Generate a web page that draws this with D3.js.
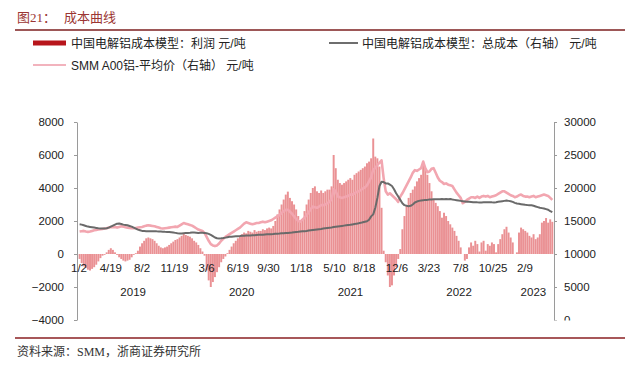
<!DOCTYPE html>
<html><head><meta charset="utf-8">
<script src="https://cdn.jsdelivr.net/npm/d3@7"></script>
<style>body{margin:0;background:#fff}svg{display:block}</style>
</head><body><svg id="c" width="640" height="375"></svg>
<script>
// weekly observations (Fridays) starting 2019-01-04
const startDate = "2019-01-04";
// 中国电解铝成本模型：利润 (元/吨, left axis)
const profit = [
 -300,-550,-750,-850, -950,-1000,-900,-800, -650,-450,-250,-100,-50, 100,250,350,250,
 100,-50,-200,-300,-400, -450,-400,-350,-200, -50,50,200,450, 650,800,950,1000,950,
 900,800,650,500, 400,350,400,450, 550,650,750,850,900, 1000,1100,1250,1150,
 1100,1050,950,800,700, 550,350,150,-100, -1000,-1600,-2000,-1700, -1400,-1100,-800,-500,
 -300,-150,50,250,450, 650,800,950,1050, 1200,1300,1250,1400,1350, 1300,1450,1350,1400,
 1400,1500,1450,1550, 1600,1550,1700,2000,2400, 2700,3000,3300,3600, 3780,3400,3200,3000,
 2700,2300,2000,2100,2600, 3000,3300,3700,4000, 4100,3800,3700,3850, 3700,3800,3900,3900,4100,
 6000,5200,4500,4300, 4200,4300,4400,4500, 4600,4500,4800,4900,5000, 5100,5200,5300,5500,
 5600,5800,7000,5900, 5800,5300,2800,200,-500, -1300,-2000,-1900,-1300, -800,-300,300,1500,2300,
 2900,3400,3700,3900, 4100,4400,4600,4800, 5600,5200,4800,4300, 3800,3300,3100,2900,2600,
 2200,2500,2300,2000, 1800,1600,1400,1100, 800,400,0,-400,-300, 400,700,500,800,
 600,150,700,800,200, 600,500,700,600, 100,600,900,1200, 1500,1650,1300,1000,700,
 0,100,1300,1600, 1500,1400,1300,1100, 1000,1200,900,1000,1200, 1900,2000,2180,1900, 2100,1950
];
// 中国电解铝成本模型：总成本 (元/吨, right axis)
const totalCost = [
 14500,14450,14350,14250, 14150,14100,14050,14000, 13950,13900,13880,13870,13880, 13900,14000,14150,14300,
 14450,14600,14620,14550,14450, 14400,14350,14250,14150, 14000,13850,13700,13600, 13500,13480,13460,13450,13450,
 13460,13450,13430,13420, 13400,13380,13360,13350, 13340,13300,13250,13200,13150, 13120,13110,13150,13180,
 13200,13220,13250,13250,13230, 13200,13220,13230,13200, 13150,13050,12900,12700, 12500,12380,12360,12380,
 12420,12480,12550,12600,12620, 12650,12680,12700,12720, 12750,12780,12800,12800,12820, 12850,12850,12880,12900,
 12900,12920,12950,12980, 13000,13000,13020,13050,13080, 13100,13130,13150,13180, 13200,13230,13260,13300,
 13330,13360,13400,13430,13460, 13500,13550,13600,13640, 13680,13720,13760,13800, 13850,13900,13950,13990,14030,
 14080,14130,14180,14220, 14260,14300,14340,14380, 14420,14480,14540,14600,14650, 14720,14800,14880,14950,
 15200,15700,16000,17000, 18500,20300,20950,20900,20700, 20700,20500,20300,19800, 19200,18700,18200,17700,17400,
 17300,17250,17300,17500, 17800,17950,18050,18100, 18150,18200,18200,18250, 18250,18300,18280,18300,18300,
 18320,18300,18320,18300, 18320,18250,18200,18150, 18100,18050,18000,17950,17900, 17900,17880,17850,17850,
 17830,17820,17820,17830,17830, 17850,17850,17830,17820, 17850,17900,17950,18000, 18050,18100,18050,18000,17900,
 17750,17650,17600,17550, 17500,17450,17420,17400, 17380,17300,17200,17100,17000, 16950,16900,16800,16700, 16500,16350
];
// SMM A00铝-平均价 (元/吨, right axis)
const smmPrice = [
 13400,13450,13500,13400, 13350,13400,13500,13600, 13650,13700,13750,13800,13850, 13900,14000,14100,14050,
 14100,14000,14100,14200,14150, 14050,14000,13950,13900, 13900,13950,14000,14050, 14100,14200,14300,14350,14300,
 14250,14200,14100,14000, 13900,13850,13900,13950, 14000,14050,14100,14150,14100, 14300,14500,14700,14600,
 14500,14400,14300,14100,13900, 13700,13600,13500,13200, 12600,12000,11500,11300, 11200,11300,11600,12000,
 12300,12600,12800,13000,13200, 13400,13600,13800,14000, 14300,14600,14800,14700,14600, 14500,14600,14700,14700,
 14800,14900,14800,14900, 15000,15100,15300,15500,15700, 15900,16200,16500,16700, 16700,16400,16100,15700,
 15300,15000,14900,15200,15500, 15900,16300,16800,17200, 17100,17000,17200,17400, 17400,17500,17700,17900,18300,
 19800,19500,18700,18600, 18500,18600,18700,18800, 19000,19000,19200,19400,19500, 19700,19900,20100,20400,
 21000,21600,22800,23000, 23500,23800,24200,21500,19500, 19000,19200,18900,18600, 18300,17900,18700,19200,19800,
 20400,21000,21600,22300, 22700,22600,22800,23000, 24000,23000,22400,22500, 22900,23000,22300,21600,21100,
 20900,20600,20700,20500, 20400,20300,19800,19300, 18900,18500,17700,17900,18200, 18400,18600,18600,18500,
 18700,18500,18700,18800,18700, 18800,18600,18700,18800, 18900,19100,19300,19500, 19500,19300,19100,18900,18800,
 18600,18700,18900,19000, 18800,18700,18700,18600, 18700,18800,18600,18700,18800, 18900,19000,18900,18800, 18500,18200
];
const xTickDates  = ["2019-01-02","2019-04-19","2019-08-02","2019-11-19","2020-03-06","2020-06-19","2020-09-30",
                     "2021-01-18","2021-05-10","2021-08-18","2021-12-06","2022-03-23","2022-07-08","2022-10-25","2023-02-09"];
const xTickLabels = ["1/2","4/19","8/2","11/19","3/6","6/19","9/30","1/18","5/10","8/18","12/6","3/23","7/8","10/25","2/9"];
const yearLabels  = ["2019","2020","2021","2022","2023"];
const leftTicks   = [8000,6000,4000,2000,0,-2000,-4000];
const rightTicks  = [30000,25000,20000,15000,10000,5000,0];
const title = "图21：";
const titleText = "成本曲线";
const legendLabels = ["中国电解铝成本模型：利润 元/吨","中国电解铝成本模型：总成本（右轴） 元/吨","SMM A00铝-平均价（右轴） 元/吨"];
const sourceText = "资料来源：SMM，浙商证券研究所";

const parse = d3.timeParse("%Y-%m-%d");
const t0 = parse(startDate);
const dates = profit.map((_, i) => d3.timeDay.offset(t0, 7 * i));

const svg = d3.select("#c");
const sans = "'Liberation Sans', Arial, 'Noto Sans CJK SC', sans-serif";
const serif = "'Liberation Serif', 'Noto Sans CJK SC', serif";

const x = d3.scaleTime().domain([parse("2019-01-02"), parse("2023-05-16")]).range([79, 553.5]);
const yL = d3.scaleLinear().domain([-4000, 8000]).range([320, 122]);
const yR = d3.scaleLinear().domain([0, 30000]).range([320, 122]);

// header
svg.append("text").attr("x", 17).attr("y", 22).attr("font-family", serif).attr("font-size", 13)
  .attr("fill", "#9b3532").text(title);
svg.append("text").attr("x", 64).attr("y", 22).attr("font-family", serif).attr("font-size", 13)
  .attr("fill", "#9b3532").text(titleText);
svg.append("line").attr("x1", 15).attr("x2", 625).attr("y1", 30).attr("y2", 30)
  .attr("stroke", "#7c1f1f").attr("stroke-width", 1.6);

// legend
const lg = svg.append("g").attr("font-family", sans).attr("font-size", 12).attr("fill", "#222");
lg.append("rect").attr("x", 33).attr("y", 40.5).attr("width", 33).attr("height", 5).attr("fill", "#b8161c");
lg.append("text").attr("x", 71).attr("y", 47.5).text(legendLabels[0]);
lg.append("line").attr("x1", 329).attr("x2", 358).attr("y1", 43).attr("y2", 43).attr("stroke", "#6e6e6e").attr("stroke-width", 2);
lg.append("text").attr("x", 362).attr("y", 47.5).text(legendLabels[1]);
lg.append("line").attr("x1", 33).attr("x2", 66).attr("y1", 65).attr("y2", 65).attr("stroke", "#f2b3bd").attr("stroke-width", 2);
lg.append("text").attr("x", 71).attr("y", 69.5).text(legendLabels[2]);

// bars
const bw = 1.95;
svg.append("g").selectAll("rect").data(profit).join("rect")
  .attr("x", (d, i) => x(dates[i]) - bw / 2)
  .attr("y", d => yL(Math.max(0, d)))
  .attr("width", bw)
  .attr("height", d => Math.abs(yL(d) - yL(0)))
  .attr("fill", "#ea9194");

// lines
const lineR = d3.line().x(d => x(d[0])).y(d => yR(d[1]));
svg.append("path").attr("d", lineR(smmPrice.map((v, i) => [dates[i], v])))
  .attr("fill", "none").attr("stroke", "#f2a6b0").attr("stroke-width", 2.6).attr("stroke-linejoin", "round");
svg.append("path").attr("d", lineR(totalCost.map((v, i) => [dates[i], v])))
  .attr("fill", "none").attr("stroke", "#6a6a6a").attr("stroke-width", 2).attr("stroke-linejoin", "round");

// axes
const styleAxis = g => {
  g.selectAll(".domain").attr("stroke", "#9a9a9a");
  g.selectAll(".tick line").attr("stroke", "#9a9a9a");
  g.selectAll("text").attr("font-family", sans).attr("font-size", 11.5).attr("fill", "#222");
};
const fmt = d3.format("d");
svg.append("g").attr("transform", "translate(77,0)")
  .call(d3.axisLeft(yL).tickValues(leftTicks).tickFormat(fmt).tickSize(3).tickSizeOuter(0).tickPadding(10))
  .call(styleAxis);
svg.append("defs").append("clipPath").attr("id", "rclip").append("rect")
  .attr("x", -10).attr("y", 100).attr("width", 100).attr("height", 220.5);
svg.append("g").attr("transform", "translate(554,0)").attr("clip-path", "url(#rclip)")
  .call(d3.axisRight(yR).tickValues(rightTicks).tickFormat(fmt).tickSize(3).tickSizeOuter(0).tickPadding(7))
  .call(styleAxis);

// x labels
const xl = svg.append("g").attr("font-family", sans).attr("font-size", 11.5).attr("fill", "#222").attr("text-anchor", "middle");
xTickDates.forEach((d, i) => {
  xl.append("text").attr("x", x(parse(d))).attr("y", 272).text(xTickLabels[i]);
});
yearLabels.forEach(yr => {
  const a = Math.max(x.domain()[0], parse(yr + "-01-01"));
  const b = Math.min(x.domain()[1], parse((+yr + 1) + "-01-01"));
  xl.append("text").attr("x", (x(a) + x(b)) / 2).attr("y", 296).text(yr);
});

// footer
svg.append("line").attr("x1", 15).attr("x2", 625).attr("y1", 338).attr("y2", 338)
  .attr("stroke", "#8a1f22").attr("stroke-width", 1.6);
svg.append("text").attr("x", 17).attr("y", 356).attr("font-family", serif).attr("font-size", 12)
  .attr("fill", "#333").text(sourceText);
</script></body></html>
